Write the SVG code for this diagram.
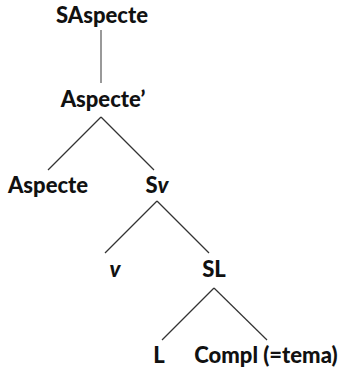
<svg xmlns="http://www.w3.org/2000/svg" width="344" height="371" viewBox="0 0 344 371">
<style>
text{font-family:Lato,"Noto Sans",sans-serif;font-weight:900;font-size:22px;fill:#111;text-anchor:middle}
.e{stroke:#333;stroke-width:1.2;fill:none}
</style>
<rect width="344" height="371" fill="#fff"/>
<g id="connectors">
<line class="e" x1="101" y1="30" x2="101" y2="83" style="stroke:#777;stroke-width:1.5"/>
<line class="e" x1="101" y1="117" x2="48" y2="170"/>
<line class="e" x1="101" y1="117" x2="154" y2="170"/>
<line class="e" x1="157" y1="201" x2="105" y2="253"/>
<line class="e" x1="157" y1="201" x2="209" y2="253"/>
<line class="e" x1="214" y1="288" x2="162" y2="340"/>
<line class="e" x1="214" y1="288" x2="267" y2="340"/>
</g>
<g id="n-saspecte"><text x="102" y="23">SAspecte</text></g>
<g id="n-aspecte1"><text x="103" y="107">Aspecte’</text></g>
<g id="n-aspecte"><text x="48" y="193">Aspecte</text></g>
<g id="n-sv"><text x="157" y="193">S<tspan font-style="italic">v</tspan></text></g>
<g id="n-v"><text x="115" y="277" font-style="italic">v</text></g>
<g id="n-sl"><text x="214" y="277">SL</text></g>
<g id="n-l"><text x="159" y="363">L</text></g>
<g id="n-compl"><text x="266" y="363">Compl (=tema)</text></g>
</svg>
